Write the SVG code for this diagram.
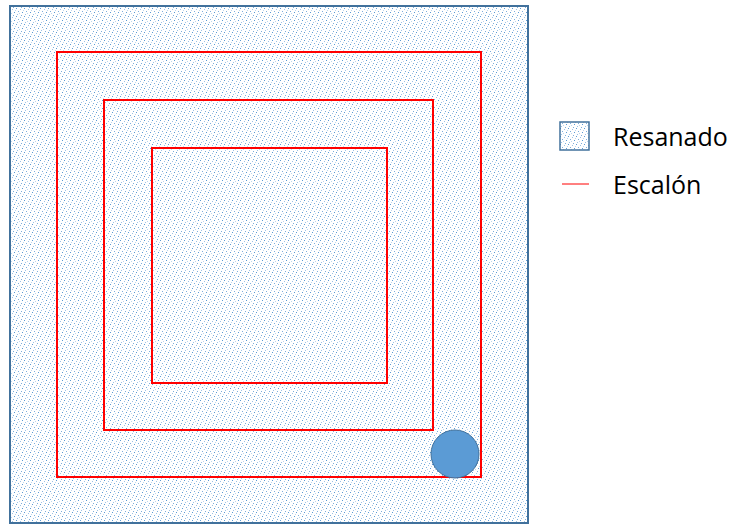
<svg xmlns="http://www.w3.org/2000/svg" width="733" height="525" viewBox="0 0 733 525">
<style>
.step{fill:none;stroke:#FF0000;stroke-width:2}
.lbl{font-family:"Open Sans","Liberation Sans",sans-serif;font-size:25px;fill:#000}
</style>
<defs>
<pattern id="dots" width="8" height="8" patternUnits="userSpaceOnUse">
<rect width="8" height="8" fill="#FFFFFF"/>
<rect x="0" y="0" width="1" height="1" fill="#5B9BD5"/>
<rect x="4" y="1" width="1" height="1" fill="#9DC3E6"/>
<rect x="2" y="3" width="1" height="1" fill="#7EAEDB"/>
<rect x="6" y="4" width="1" height="1" fill="#5B9BD5"/>
<rect x="1" y="6" width="1" height="1" fill="#9DC3E6"/>
<rect x="5" y="7" width="1" height="1" fill="#7EAEDB"/>
<rect x="7" y="2" width="1" height="1" fill="#BDD7EE"/>
<rect x="3" y="5" width="1" height="1" fill="#BDD7EE"/>
</pattern>
</defs>
<g id="area">
<rect x="10" y="6" width="518" height="517" fill="url(#dots)" stroke="#41719C" stroke-width="2"/>
</g>
<g id="connectors">
<rect class="step" x="57" y="52" width="424" height="425"/>
<rect class="step" x="104" y="100" width="329" height="330"/>
<rect class="step" x="152" y="148" width="235" height="235"/>
</g>
<g id="marker-circle">
<circle cx="455" cy="454" r="24" fill="#5B9BD5" stroke="#41719C" stroke-width="1"/>
</g>
<g id="legend">
<rect x="560" y="122" width="29" height="28" fill="url(#dots)" stroke="#41719C" stroke-width="1.5"/>
<text class="lbl" x="613" y="146">Resanado</text>
<line x1="562" y1="184" x2="589" y2="184" stroke="#FF0000" stroke-width="1"/>
<text class="lbl" x="613" y="194">Escalón</text>
</g>
</svg>
